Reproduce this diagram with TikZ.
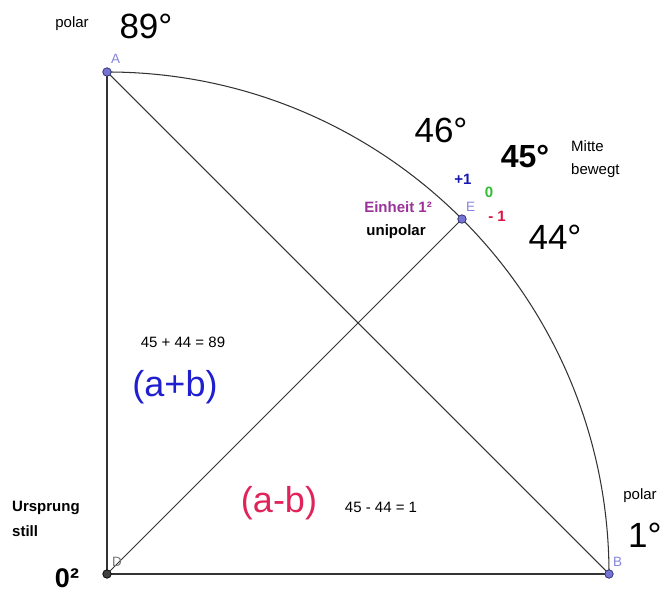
\documentclass[tikz,border=0pt]{standalone}
\usepackage{fontspec}
\setmainfont{Liberation Sans}
\usetikzlibrary{positioning, calc}

\definecolor{ptfill}{HTML}{7474D4}
\definecolor{ptdraw}{HTML}{2A2A66}
\definecolor{lbl}{HTML}{8484DC}
\definecolor{sumblue}{HTML}{1F1FD0}
\definecolor{plusblue}{HTML}{1616B0}
\definecolor{nullgreen}{HTML}{33BB33}
\definecolor{minusred}{HTML}{DD1144}
\definecolor{diffred}{HTML}{E0245A}
\definecolor{unitpurple}{HTML}{993399}

\begin{document}
\begin{tikzpicture}[
        x=1pt, y=1pt,
        node distance=7pt and 5pt,
        seg/.style={draw=black!80, line width=1.05pt},
        pt/.style={circle, fill=ptfill, draw=ptdraw, line width=0.7pt, inner sep=0pt, minimum size=8.5pt},
        ptlabel/.style={text=lbl, font=\fontsize{13.5}{15}\selectfont, inner sep=0pt},
        smalltxt/.style={font=\fontsize{15}{17}\selectfont, inner sep=0pt, anchor=base},
        boldtxt/.style={font=\fontsize{15}{17}\selectfont\bfseries, inner sep=0pt, anchor=base},
        bigdeg/.style={font=\fontsize{35}{40}\selectfont, inner sep=0pt, anchor=base},
        termtxt/.style={font=\fontsize{36}{40}\selectfont, inner sep=0pt, anchor=base},
    ]
        \useasboundingbox (0,0) rectangle (664,594);

        % Points of the quarter circle
        \coordinate (D) at (107,20);
        \coordinate (A) at (107,522);
        \coordinate (B) at (609,20);
        \coordinate (E) at ($(D)+(45:502)$);

        % Triangle, diagonal and arc
        \draw[seg] (A) -- (D) -- (B);
        \draw[seg] (A) -- (B);
        \draw[seg] (D) -- (E);
        \draw[seg] (A) arc[start angle=90, end angle=0, radius=502];

        % Point markers and labels
        \node[pt] (ptA) at (A) {};
        \node[pt] (ptB) at (B) {};
        \node[pt] (ptE) at (E) {};
        \node[pt, fill=black!75, draw=black] (ptD) at (D) {};
        \node[ptlabel, above right=8pt and 4pt of A] (labA) {A};
        \node[ptlabel, above right=7pt and 4pt of B] (labB) {B};
        \node[ptlabel, above right=7pt and 4pt of E] (labE) {E};
        \node[ptlabel, above right=7pt and 5pt of D, text=black!55] (labD) {D};

        % Top: polar 89
        \node[smalltxt] (polarA) at (72,566) {polar};
        \node[bigdeg] (degA) at (146,555) {89°};

        % Middle: E
        \node[bigdeg] (degUp) at (441,451) {46°};
        \node[bigdeg, font=\fontsize{32}{36}\selectfont\bfseries] (degMid) at (525,426) {45°};
        \node[smalltxt, anchor=base west] (mitte) at (571,442) {Mitte};
        \node[smalltxt, anchor=base west] (bewegt) at (571,419) {bewegt};
        \node[boldtxt, text=plusblue] (plusone) at (463,409) {+1};
        \node[boldtxt, text=nullgreen] (zero) at (489,396) {0};
        \node[boldtxt, text=minusred] (minusone) at (497,372) {- 1};
        \node[boldtxt, text=unitpurple] (einheit) at (398,381) {Einheit 1²};
        \node[boldtxt] (unipolar) at (396,358) {unipolar};
        \node[bigdeg] (degDown) at (555,344) {44°};

        % Sum and difference
        \node[smalltxt] (sumeq) at (183,246) {45 + 44 = 89};
        \node[termtxt, text=sumblue] (sum) at (175,197) {(a+b)};
        \node[termtxt, text=diffred] (diff) at (279,81) {(a-b)};
        \node[smalltxt] (diffeq) at (381,81) {45 - 44 = 1};

        % Bottom left: origin
        \node[boldtxt, anchor=base west] (ursprung) at (12,82) {Ursprung};
        \node[boldtxt, anchor=base west] (still) at (12,57) {still};
        \node[bigdeg, font=\fontsize{27}{31}\selectfont\bfseries] (origin) at (67,6) {0²};

        % Bottom right: polar 1
        \node[smalltxt] (polarB) at (640,94) {polar};
        \node[bigdeg, anchor=base west] (degB) at (628,46) {1°};
    \end{tikzpicture}
\end{document}
